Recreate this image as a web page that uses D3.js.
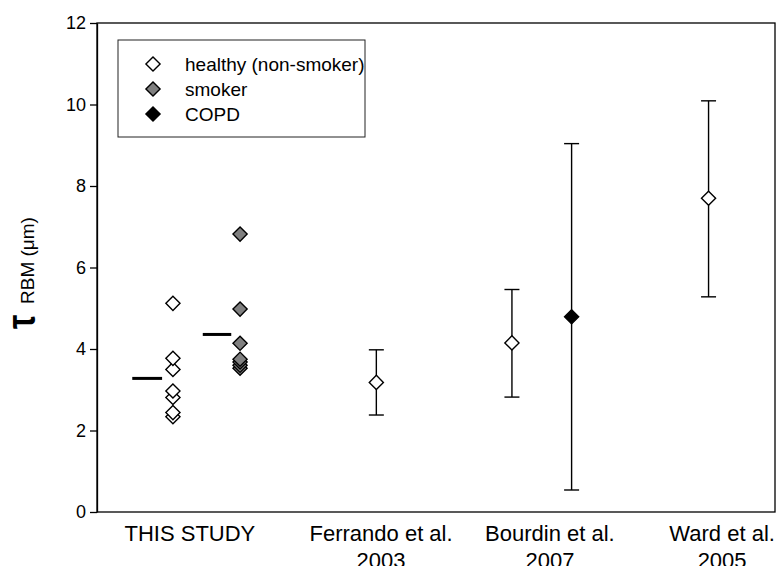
<!DOCTYPE html>
<html>
<head>
<meta charset="utf-8">
<script src="https://cdn.jsdelivr.net/npm/d3@7"></script>
<style>
  body { margin: 0; background: #fff; }
  text { font-family: Arial, "Liberation Sans", sans-serif; fill: #000; }
</style>
</head>
<body>
<svg id="chart" width="779" height="566"></svg>
<script>
// τ RBM per subject, this study
const healthyThisStudy = [5.12, 3.77, 3.50, 2.97, 2.81, 2.44, 2.34];
const smokerThisStudy  = [6.82, 4.98, 4.14, 3.75, 3.68, 3.60, 3.53];
const thisStudyPos     = [1.12, 2.11];          // x slot of each subject group
const thisStudyMeanSpan = [[0.52, 0.96], [1.56, 1.98]];

// published values: mean with range
const literatureGroup = ["healthy", "healthy", "COPD", "healthy"];
const literatureMean  = [3.18, 4.15, 4.79, 7.70];
const literatureLow   = [2.38, 2.82, 0.54, 5.28];
const literatureHigh  = [3.98, 5.46, 9.04, 10.09];
const literaturePos   = [4.12, 6.12, 7.00, 9.02];

// category labels along the bottom
const categoryLabels = [["THIS STUDY"], ["Ferrando et al.", "2003"], ["Bourdin et al.", "2007"], ["Ward et al.", "2005"]];
const categoryPos    = [1.37, 4.19, 6.68, 9.22];

const yTicks = [0, 2, 4, 6, 8, 10, 12];
const legendGroups = ["healthy", "smoker", "COPD"];
const legendLabels = ["healthy (non-smoker)", "smoker", "COPD"];
const groupFill = { healthy: "#ffffff", smoker: "#808080", COPD: "#000000" };

const svg = d3.select("#chart");
const plotL = 97, plotR = 775, plotT = 23, plotB = 512;

const x = d3.scaleLinear().domain([0, 10]).range([plotL, plotR]);
const y = d3.scaleLinear().domain([0, 12]).range([plotB, plotT]);

// square marker, turned 45° into a diamond when drawn
const diamondPath = d3.symbol().type(d3.symbolSquare).size(100)();
function drawDiamond(cx, cy, fill) {
  svg.append("path")
    .attr("d", diamondPath)
    .attr("transform", `translate(${cx},${cy}) rotate(45)`)
    .attr("fill", fill)
    .attr("stroke", "#000")
    .attr("stroke-width", 1.4);
}

// frame
svg.append("rect")
  .attr("x", plotL).attr("y", plotT)
  .attr("width", plotR - plotL).attr("height", plotB - plotT)
  .attr("fill", "none").attr("stroke", "#000").attr("stroke-width", 1.3);

// y axis
const yAxis = svg.append("g")
  .attr("transform", `translate(${plotL},0)`)
  .call(d3.axisLeft(y).tickValues(yTicks).tickSize(7).tickSizeOuter(0).tickPadding(4));
yAxis.select(".domain").attr("stroke-width", 1.3);
yAxis.selectAll(".tick line").attr("stroke-width", 1.3);
yAxis.selectAll(".tick text")
  .attr("font-size", 18)
  .attr("font-family", "Arial, 'Liberation Sans', sans-serif");

// y axis title: large τ symbol followed by the subscript-style label
svg.append("text")
  .attr("transform", "translate(35,329) rotate(-90) scale(0.8,1)")
  .attr("font-family", "'DejaVu Sans', sans-serif")
  .attr("font-weight", "bold")
  .attr("font-size", 40)
  .text("τ");
svg.append("text")
  .attr("transform", "translate(34,304) rotate(-90)")
  .attr("font-size", 19)
  .text("RBM (μm)");

// category labels
categoryLabels.forEach((lines, i) => {
  const t = svg.append("text")
    .attr("text-anchor", "middle")
    .attr("font-size", 22)
    .attr("x", x(categoryPos[i]))
    .attr("y", 541);
  lines.forEach((ln, j) => {
    t.append("tspan")
      .attr("x", x(categoryPos[i]))
      .attr("dy", j === 0 ? 0 : 27)
      .text(ln);
  });
});

// means of this study's groups
[healthyThisStudy, smokerThisStudy].forEach((vals, i) => {
  const m = d3.mean(vals);
  svg.append("line")
    .attr("x1", x(thisStudyMeanSpan[i][0])).attr("x2", x(thisStudyMeanSpan[i][1]))
    .attr("y1", y(m)).attr("y2", y(m))
    .attr("stroke", "#000").attr("stroke-width", 3);
});

// error bars for published values
const capHalf = 7.5;
literatureMean.forEach((m, i) => {
  const cx = x(literaturePos[i]);
  const g = svg.append("g").attr("stroke", "#000").attr("stroke-width", 1.4);
  g.append("line").attr("x1", cx).attr("x2", cx).attr("y1", y(literatureLow[i])).attr("y2", y(literatureHigh[i]));
  g.append("line").attr("x1", cx - capHalf).attr("x2", cx + capHalf).attr("y1", y(literatureLow[i])).attr("y2", y(literatureLow[i]));
  g.append("line").attr("x1", cx - capHalf).attr("x2", cx + capHalf).attr("y1", y(literatureHigh[i])).attr("y2", y(literatureHigh[i]));
});

// this study's subjects (drawn bottom-up so higher points sit on top)
healthyThisStudy.slice().reverse().forEach(v => drawDiamond(x(thisStudyPos[0]), y(v), groupFill.healthy));
smokerThisStudy.slice().reverse().forEach(v => drawDiamond(x(thisStudyPos[1]), y(v), groupFill.smoker));

// published means
literatureMean.forEach((m, i) => drawDiamond(x(literaturePos[i]), y(m), groupFill[literatureGroup[i]]));

// legend
svg.append("rect")
  .attr("x", 118).attr("y", 40).attr("width", 247).attr("height", 97)
  .attr("fill", "#fff").attr("stroke", "#222").attr("stroke-width", 1);
legendGroups.forEach((g, i) => {
  const ly = 64 + i * 25;
  drawDiamond(153, ly, groupFill[g]);
  svg.append("text")
    .attr("x", 185).attr("y", ly)
    .attr("dy", "0.35em")
    .attr("font-size", 19)
    .text(legendLabels[i]);
});
</script>
</body>
</html>
